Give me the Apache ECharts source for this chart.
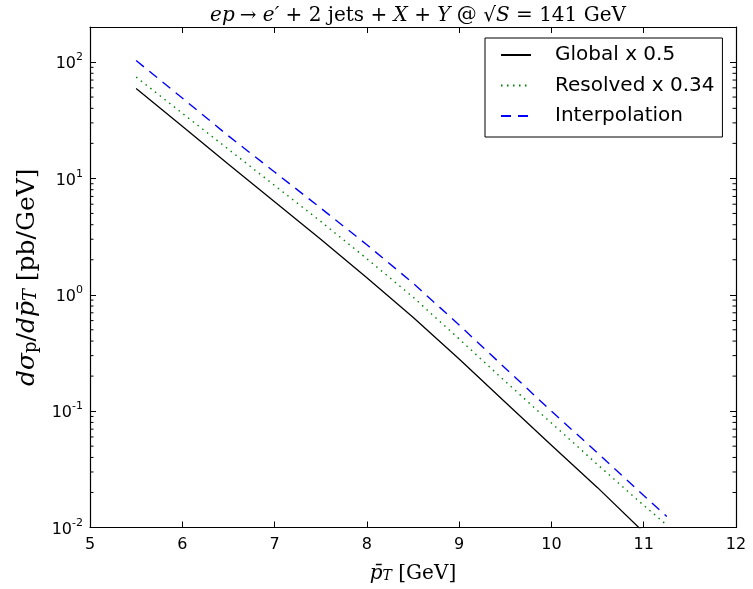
<!DOCTYPE html>
<html>
<head>
<meta charset="utf-8">
<script src="https://cdn.jsdelivr.net/npm/echarts@6/dist/echarts.min.js"></script>
<style>
html,body{margin:0;padding:0;background:#fff;}
#c{width:753px;height:589px;}
</style>
</head>
<body>
<div id="c"></div>
<script>
// ---- data ----
var xTicks = [5, 6, 7, 8, 9, 10, 11, 12];
var yTickExponents = [-2, -1, 0, 1, 2];
var xGlobal = [5.5, 6, 6.5, 7, 7.5, 8, 8.5, 9, 9.5, 10, 10.5, 11];
var globalVals = [59.2, 28, 13.2, 6.3, 3.0, 1.40, 0.64, 0.28, 0.119, 0.051, 0.022, 0.0091];
var xOther = [5.5, 6, 6.5, 7, 7.5, 8, 8.5, 9, 9.5, 10, 10.5, 11, 11.25];
var resolvedVals = [74.3, 36.3, 17.8, 8.7, 4.27, 2.04, 0.955, 0.417, 0.18, 0.079, 0.0347, 0.0155, 0.0105];
var interpVals = [103, 49, 23.2, 11.35, 5.56, 2.69, 1.26, 0.55, 0.234, 0.1, 0.0437, 0.0188, 0.01245];
var seriesNames = ['Global x 0.5', 'Resolved x 0.34', 'Interpolation'];
var minorTickValues = [];
[-2, -1, 0, 1, 2].forEach(function (e) {
  for (var m = 2; m <= 9; m++) {
    var v = m * Math.pow(10, e);
    if (v < 200) minorTickValues.push(+v.toPrecision(3));
  }
});

function pairs(xs, ys) { return xs.map(function (x, i) { return [x, ys[i]]; }); }

var chart = echarts.init(document.getElementById('c'), null, {renderer: 'canvas'});

var X_MIN = 5, X_MAX = 12, Y_MIN = 0.01, Y_MAX = 200;
var tickFont = 'DejaVu Sans';
var serif = 'DejaVu Serif';

function yLabel(v) {
  var e = Math.log10(v);
  var r = Math.round(e);
  if (Math.abs(e - r) > 1e-6) return '';
  if (yTickExponents.indexOf(r) < 0) return '';
  return '{b|10}{s|' + (r < 0 ? '-' + (-r) : r) + '}';
}

var yLabelRich = {
  b: {fontFamily: tickFont, fontSize: 16, color: '#000', verticalAlign: 'bottom', lineHeight: 20},
  s: {fontFamily: tickFont, fontSize: 11, color: '#000', verticalAlign: 'top', lineHeight: 20, padding: [0, 0, 8, 0]}
};

function mathRich(size) {
  var sub = Math.round(size * 0.7);
  return {
    i: {fontFamily: serif, fontStyle: 'italic', fontWeight: 'normal', fontSize: size, color: '#000'},
    r: {fontFamily: serif, fontWeight: 'normal', fontSize: size, color: '#000'},
    sub: {fontFamily: serif, fontWeight: 'normal', fontSize: sub, color: '#000', verticalAlign: 'bottom', padding: [Math.round(size * 0.3), 0, 0, 0]},
    subi: {fontFamily: serif, fontStyle: 'italic', fontWeight: 'normal', fontSize: sub, color: '#000', verticalAlign: 'bottom', padding: [Math.round(size * 0.3), 0, 0, 0]}
  };
}

var gridL = 90, gridR = 17, gridT = 27, gridB = 61.5;

var option = {
  animation: false,
  backgroundColor: '#fff',
  title: {
    text: '{i|ep} {r|→ }{i|e′}{r| + 2 jets + }{i|X}{r| + }{i|Y}{r| @ √}{i|S}{r| = 141 GeV}',
    left: 413, top: 1, textAlign: 'center',
    textStyle: {fontWeight: 'normal', rich: mathRich(20)}
  },
  legend: {
    data: seriesNames,
    orient: 'vertical',
    left: 485, top: 38,
    itemWidth: 30, itemHeight: 14,
    itemGap: 8.5,
    padding: [6, 8, 10, 15],
    borderColor: '#000', borderWidth: 1,
    backgroundColor: '#fff',
    itemStyle: {opacity: 0},
    textStyle: {fontFamily: tickFont, fontSize: 20, color: '#000', padding: [0, 0, 0, 19], lineHeight: 22},
    selectedMode: false
  },
  grid: {left: gridL, right: gridR, top: gridT, bottom: gridB, containLabel: false, show: false},
  xAxis: [{
    type: 'value', min: X_MIN, max: X_MAX, interval: 1, position: 'bottom',
    axisLine: {show: true, onZero: false, lineStyle: {color: '#000', width: 1.2}},
    axisTick: {show: true, inside: true, length: 6, lineStyle: {color: '#000', width: 1}},
    axisLabel: {show: true, margin: 9, fontFamily: tickFont, fontSize: 16, color: '#000',
      formatter: function (v) { return xTicks.indexOf(v) >= 0 ? String(v) : ''; }},
    splitLine: {show: false},
    name: '{i|p̄}{subi|T}{r| [GeV]}', nameLocation: 'middle', nameGap: 36,
    nameTextStyle: {rich: mathRich(20)}
  }, {
    type: 'value', min: X_MIN, max: X_MAX, interval: 1, position: 'top',
    axisLine: {show: true, onZero: false, lineStyle: {color: '#000', width: 1.2}},
    axisTick: {show: true, inside: true, length: 6, lineStyle: {color: '#000', width: 1}},
    axisLabel: {show: false}, splitLine: {show: false}
  }],
  yAxis: [{
    type: 'log', logBase: 10, min: Y_MIN, max: Y_MAX, position: 'left',
    axisLine: {show: true, onZero: false, lineStyle: {color: '#000', width: 1.2}},
    axisTick: {show: true, inside: true, length: 6, lineStyle: {color: '#000', width: 1}},
    axisLabel: {show: true, margin: 7, formatter: yLabel, rich: yLabelRich},
    splitLine: {show: false},
    name: '{i|dσ}{sub|p}{r|/}{i|dp̄}{subi|T}{r| [pb/GeV]}',
    nameLocation: 'middle', nameGap: 50, nameRotate: 90,
    nameTextStyle: {rich: mathRich(25)}
  }, {
    type: 'log', logBase: 10, min: Y_MIN, max: Y_MAX, position: 'right',
    axisLine: {show: true, onZero: false, lineStyle: {color: '#000', width: 1.2}},
    axisTick: {show: true, inside: true, length: 6, lineStyle: {color: '#000', width: 1}},
    axisLabel: {show: false}, splitLine: {show: false}
  }],
  series: [{
    name: seriesNames[0], type: 'line', data: pairs(xGlobal, globalVals),
    symbol: 'none', showSymbol: false, clip: true,
    lineStyle: {color: '#000000', width: 1.3, type: 'solid'},
    itemStyle: {color: '#000000'}
  }, {
    name: seriesNames[1], type: 'line', data: pairs(xOther, resolvedVals),
    symbol: 'none', showSymbol: false, clip: true,
    lineStyle: {color: '#008000', width: 1.4, type: [1.5, 4.5]},
    itemStyle: {color: '#008000'}
  }, {
    name: seriesNames[2], type: 'line', data: pairs(xOther, interpVals),
    symbol: 'none', showSymbol: false, clip: true,
    lineStyle: {color: '#0000ff', width: 1.4, type: [10, 7]},
    itemStyle: {color: '#0000ff'}
  }, {
    name: 'minorTicks', type: 'custom', silent: true,
    data: minorTickValues.map(function (v) { return [v]; }),
    encode: {y: 0},
    renderItem: function (params, api) {
      var v = api.value(0);
      var pl = api.coord([X_MIN, v]);
      var pr = api.coord([X_MAX, v]);
      return {
        type: 'group',
        children: [
          {type: 'line', shape: {x1: pl[0], y1: pl[1], x2: pl[0] + 3.5, y2: pl[1]}, style: {stroke: '#000', lineWidth: 1}},
          {type: 'line', shape: {x1: pr[0], y1: pr[1], x2: pr[0] - 3.5, y2: pr[1]}, style: {stroke: '#000', lineWidth: 1}}
        ]
      };
    }
  }]
};
chart.setOption(option);
</script>
</body>
</html>
